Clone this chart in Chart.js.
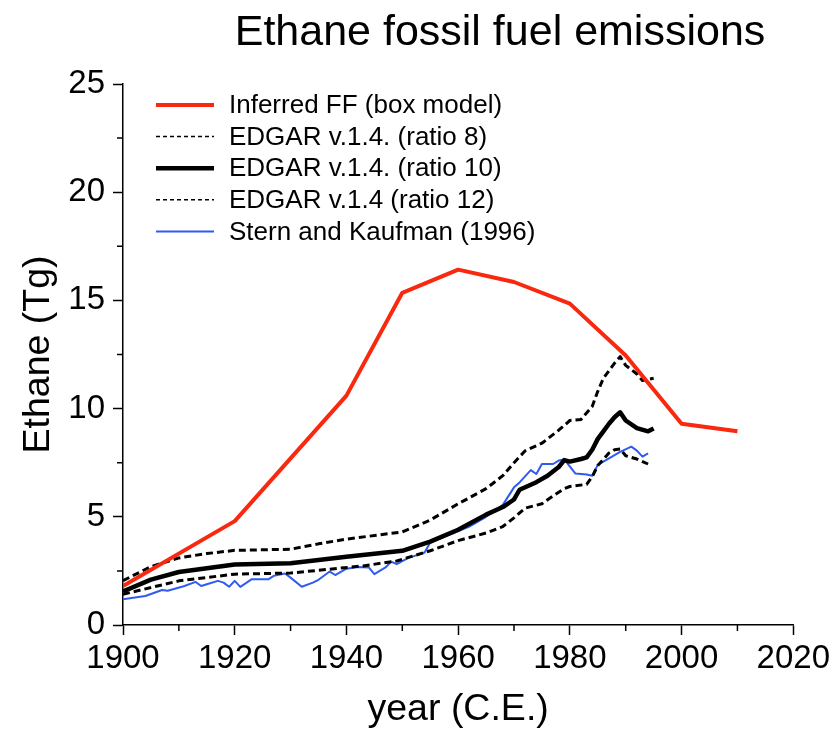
<!DOCTYPE html>
<html>
<head>
<meta charset="utf-8">
<title>Ethane fossil fuel emissions</title>
<script src="https://cdn.jsdelivr.net/npm/chart.js@4.4.1/dist/chart.umd.min.js"></script>
<style>
  html, body { margin: 0; padding: 0; background: #fff; }
  #wrap { position: relative; width: 834px; height: 733px; overflow: hidden; }
  #chart { position: absolute; left: 0; top: 0; }
  #title {
    position: absolute; left: 500px; top: 6px; transform: translateX(-50%);
    white-space: nowrap; color: #000;
    font: 43px "Liberation Sans", Arial, Helvetica, sans-serif;
  }
</style>
</head>
<body>
<div id="wrap">
  <canvas id="chart" width="834" height="733"></canvas>
  <div id="title">Ethane fossil fuel emissions</div>
</div>
<script>
// Data
const boxYears = [1900, 1920, 1940, 1950, 1960, 1970, 1980, 1990, 2000, 2010];
const boxValues = [1.8, 4.8, 10.6, 15.35, 16.42, 15.85, 14.85, 12.45, 9.3, 8.95];

const ratio8Years = [1900, 1905, 1910, 1915, 1920, 1930, 1935, 1940, 1950, 1955, 1960, 1965, 1968, 1970, 1972, 1975, 1978, 1980, 1982, 1984, 1985, 1986, 1988, 1989, 1990, 1992, 1993, 1995];
const ratio8Values = [2.05, 2.7, 3.1, 3.3, 3.45, 3.5, 3.75, 3.97, 4.3, 4.85, 5.6, 6.3, 6.9, 7.5, 8.05, 8.4, 9.0, 9.45, 9.5, 10.1, 10.8, 11.4, 12.1, 12.4, 12.0, 11.6, 11.3, 11.4];

const ratio10Years = [1900, 1905, 1910, 1920, 1930, 1940, 1950, 1955, 1960, 1965, 1968, 1970, 1971, 1974, 1976, 1978, 1979, 1980, 1982, 1983, 1984, 1985, 1986, 1987, 1988, 1989, 1990, 1992, 1994, 1995];
const ratio10Values = [1.55, 2.1, 2.45, 2.8, 2.85, 3.15, 3.43, 3.85, 4.4, 5.1, 5.45, 5.8, 6.25, 6.6, 6.9, 7.3, 7.62, 7.55, 7.67, 7.75, 8.1, 8.6, 8.95, 9.3, 9.6, 9.83, 9.45, 9.1, 8.95, 9.08];

const ratio12Years = [1900, 1910, 1920, 1930, 1937, 1943, 1949, 1955, 1960, 1965, 1968, 1970, 1972, 1975, 1977, 1979, 1980, 1983, 1984, 1985, 1987, 1988, 1989, 1990, 1992, 1994];
const ratio12Values = [1.42, 2.04, 2.35, 2.4, 2.58, 2.73, 2.96, 3.43, 3.9, 4.25, 4.55, 4.95, 5.4, 5.6, 5.97, 6.3, 6.4, 6.5, 6.85, 7.37, 7.95, 8.1, 8.13, 7.82, 7.67, 7.44];

const sternYears = [1900, 1904, 1907, 1908, 1911, 1913, 1914, 1915, 1917, 1918, 1919, 1920, 1921, 1923, 1926, 1927, 1929, 1930, 1932, 1934, 1935, 1937, 1938, 1940, 1942, 1944, 1945, 1947, 1948, 1949, 1951, 1954, 1955, 1958, 1962, 1965, 1968, 1970, 1971, 1973, 1974, 1975, 1977, 1978, 1979, 1981, 1983, 1984, 1985, 1988, 1989, 1991, 1992, 1993, 1994];
const sternValues = [1.19, 1.34, 1.62, 1.58, 1.8, 1.99, 1.8, 1.88, 2.04, 1.96, 1.77, 2.04, 1.76, 2.11, 2.11, 2.27, 2.38, 2.19, 1.77, 1.96, 2.09, 2.47, 2.31, 2.6, 2.68, 2.66, 2.35, 2.66, 2.93, 2.81, 3.09, 3.35, 3.81, 4.12, 4.55, 5.0, 5.55, 6.36, 6.59, 7.16, 6.98, 7.44, 7.44, 7.6, 7.65, 7.0, 6.95, 6.9, 7.4, 7.85, 8.0, 8.24, 8.06, 7.78, 7.93];

// Axis ticks
const xMajorTicks = [1900, 1920, 1940, 1960, 1980, 2000, 2020];
const xMinorTicks = [1910, 1930, 1950, 1970, 1990, 2010];
const yMajorTicks = [0, 5, 10, 15, 20, 25];
const yMinorTicks = [2.5, 7.5, 12.5, 17.5, 22.5];

const FONT = '"Liberation Sans", Arial, Helvetica, sans-serif';
const RED = "#f8290f";
const BLUE = "#2f5bf0";

function toPoints(xs, ys) {
  return xs.map((x, i) => ({ x: x, y: ys[i] }));
}

// Short minor ticks on both axes
const minorTickPlugin = {
  id: "minorTicks",
  afterDraw(chart) {
    const ctx = chart.ctx;
    const xs = chart.scales.x;
    const ys = chart.scales.y;
    ctx.save();
    ctx.strokeStyle = "#000";
    ctx.lineWidth = 1.5;
    ctx.beginPath();
    xMinorTicks.forEach((v) => {
      const px = xs.getPixelForValue(v);
      ctx.moveTo(px, ys.bottom);
      ctx.lineTo(px, ys.bottom + 6);
    });
    yMinorTicks.forEach((v) => {
      const py = ys.getPixelForValue(v);
      ctx.moveTo(xs.left, py);
      ctx.lineTo(xs.left - 6, py);
    });
    ctx.stroke();
    ctx.restore();
  },
};

// Legend drawn inside the plot, top-left
const insideLegendPlugin = {
  id: "insideLegend",
  afterDraw(chart) {
    const ctx = chart.ctx;
    const x0 = 156, x1 = 214, tx = 229, y0 = 105, step = 31.6;
    ctx.save();
    ctx.font = "26px " + FONT;
    ctx.textBaseline = "middle";
    ctx.fillStyle = "#000";
    chart.data.datasets.forEach((ds, i) => {
      const y = y0 + i * step;
      ctx.beginPath();
      ctx.strokeStyle = ds.borderColor;
      ctx.lineWidth = ds.legendWidth;
      ctx.setLineDash(ds.legendDash || []);
      ctx.moveTo(x0, y);
      ctx.lineTo(x1, y);
      ctx.stroke();
      ctx.setLineDash([]);
      ctx.fillText(ds.label, tx, y + 1);
    });
    ctx.restore();
  },
};

const ctx = document.getElementById("chart").getContext("2d");
new Chart(ctx, {
  type: "line",
  data: {
    datasets: [
      {
        label: "Inferred FF (box model)",
        data: toPoints(boxYears, boxValues),
        borderColor: RED,
        borderWidth: 4,
        legendWidth: 4,
      },
      {
        label: "EDGAR v.1.4. (ratio 8)",
        data: toPoints(ratio8Years, ratio8Values),
        borderColor: "#000",
        borderWidth: 3,
        borderDash: [7, 4],
        legendWidth: 1.5,
        legendDash: [4, 3],
      },
      {
        label: "EDGAR v.1.4. (ratio 10)",
        data: toPoints(ratio10Years, ratio10Values),
        borderColor: "#000",
        borderWidth: 4.5,
        legendWidth: 4.5,
      },
      {
        label: "EDGAR v.1.4 (ratio 12)",
        data: toPoints(ratio12Years, ratio12Values),
        borderColor: "#000",
        borderWidth: 3,
        borderDash: [7, 4],
        legendWidth: 1.5,
        legendDash: [4, 3],
      },
      {
        label: "Stern and Kaufman (1996)",
        data: toPoints(sternYears, sternValues),
        borderColor: BLUE,
        borderWidth: 2,
        legendWidth: 2,
      },
    ],
  },
  options: {
    responsive: false,
    animation: false,
    layout: { padding: { top: 84, right: 40, left: 0, bottom: 0 } },
    elements: {
      point: { radius: 0 },
      line: { tension: 0, borderJoinStyle: "round", borderCapStyle: "butt" },
    },
    plugins: {
      legend: { display: false },
      tooltip: { enabled: false },
      title: { display: false },
    },
    scales: {
      x: {
        type: "linear",
        min: 1900,
        max: 2020,
        afterBuildTicks: (scale) => {
          scale.ticks = xMajorTicks.map((v) => ({ value: v }));
        },
        afterFit: (scale) => {
          scale.height = 108;
        },
        ticks: {
          color: "#000",
          font: { family: FONT, size: 33 },
          padding: 4,
          maxRotation: 0,
          callback: (v) => String(v),
        },
        grid: {
          drawOnChartArea: false,
          drawTicks: true,
          tickLength: 10,
          tickColor: "#000",
          tickWidth: 1.5,
        },
        border: { color: "#000", width: 1.5 },
        title: {
          display: true,
          text: "year (C.E.)",
          color: "#000",
          font: { family: FONT, size: 37.5 },
          padding: { top: 0, bottom: 1 },
        },
      },
      y: {
        min: 0,
        max: 25,
        afterBuildTicks: (scale) => {
          scale.ticks = yMajorTicks.map((v) => ({ value: v }));
        },
        afterFit: (scale) => {
          scale.width = 123;
        },
        ticks: {
          color: "#000",
          font: { family: FONT, size: 33 },
          padding: 8,
          callback: (v) => String(v),
        },
        grid: {
          drawOnChartArea: false,
          drawTicks: true,
          tickLength: 10,
          tickColor: "#000",
          tickWidth: 1.5,
        },
        border: { color: "#000", width: 1.5 },
        title: {
          display: true,
          text: "Ethane (Tg)",
          color: "#000",
          font: { family: FONT, size: 37.5 },
          padding: { top: 16, bottom: 0 },
        },
      },
    },
  },
  plugins: [minorTickPlugin, insideLegendPlugin],
});
</script>
</body>
</html>
